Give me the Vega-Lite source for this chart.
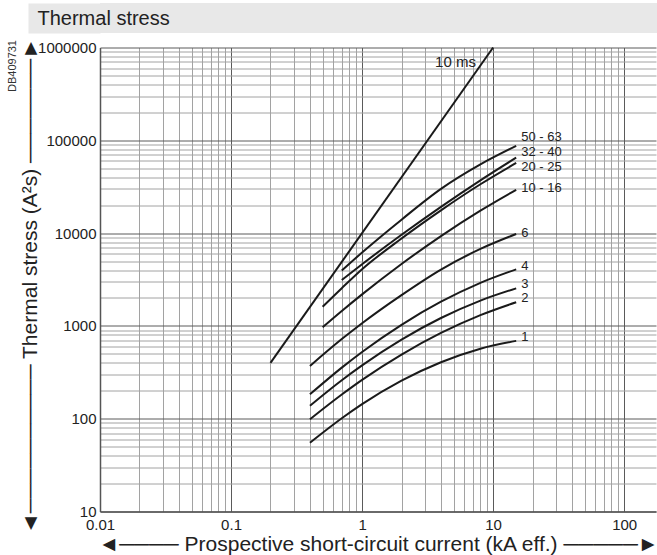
{
  "$schema": "https://vega.github.io/schema/vega-lite/v6.json",
  "padding": {"left": 6, "top": 3, "right": 0, "bottom": 0},
  "spacing": 14.5,
  "bounds": "flush",
  "config": {
    "font": "Liberation Sans",
    "view": {"stroke": null}
  },
  "datasets": {
    "curves": [
      {"s": "10 ms", "x": 0.2, "y": 400}, {"s": "10 ms", "x": 10, "y": 1000000},
      {"s": "50 - 63", "x": 0.7, "y": 3950}, {"s": "50 - 63", "x": 1, "y": 6180}, {"s": "50 - 63", "x": 2, "y": 13960}, {"s": "50 - 63", "x": 4, "y": 29970}, {"s": "50 - 63", "x": 8, "y": 55000}, {"s": "50 - 63", "x": 15, "y": 87000},
      {"s": "32 - 40", "x": 0.7, "y": 3126}, {"s": "32 - 40", "x": 1, "y": 4620}, {"s": "32 - 40", "x": 2, "y": 9590}, {"s": "32 - 40", "x": 4, "y": 19180}, {"s": "32 - 40", "x": 8, "y": 37000}, {"s": "32 - 40", "x": 15, "y": 65000},
      {"s": "20 - 25", "x": 0.5, "y": 1610}, {"s": "20 - 25", "x": 0.7, "y": 2550}, {"s": "20 - 25", "x": 1, "y": 4080}, {"s": "20 - 25", "x": 2, "y": 8750}, {"s": "20 - 25", "x": 4, "y": 17600}, {"s": "20 - 25", "x": 8, "y": 33600}, {"s": "20 - 25", "x": 15, "y": 57000},
      {"s": "10 - 16", "x": 0.5, "y": 966}, {"s": "10 - 16", "x": 0.7, "y": 1446}, {"s": "10 - 16", "x": 1, "y": 2185}, {"s": "10 - 16", "x": 2, "y": 4645}, {"s": "10 - 16", "x": 4, "y": 9290}, {"s": "10 - 16", "x": 8, "y": 17460}, {"s": "10 - 16", "x": 15, "y": 29300},
      {"s": "6", "x": 0.4, "y": 370}, {"s": "6", "x": 0.7, "y": 721}, {"s": "6", "x": 1, "y": 1069}, {"s": "6", "x": 2, "y": 2149}, {"s": "6", "x": 4, "y": 4050}, {"s": "6", "x": 8, "y": 6750}, {"s": "6", "x": 15, "y": 9780},
      {"s": "4", "x": 0.4, "y": 183}, {"s": "4", "x": 0.7, "y": 355}, {"s": "4", "x": 1, "y": 524}, {"s": "4", "x": 2, "y": 1028}, {"s": "4", "x": 4, "y": 1822}, {"s": "4", "x": 8, "y": 2911}, {"s": "4", "x": 15, "y": 4070},
      {"s": "3", "x": 0.4, "y": 138}, {"s": "3", "x": 0.7, "y": 260}, {"s": "3", "x": 1, "y": 376}, {"s": "3", "x": 2, "y": 712}, {"s": "3", "x": 4, "y": 1217}, {"s": "3", "x": 8, "y": 1875}, {"s": "3", "x": 15, "y": 2540},
      {"s": "2", "x": 0.4, "y": 98.5}, {"s": "2", "x": 0.7, "y": 182}, {"s": "2", "x": 1, "y": 262}, {"s": "2", "x": 2, "y": 491}, {"s": "2", "x": 4, "y": 839}, {"s": "2", "x": 8, "y": 1306}, {"s": "2", "x": 15, "y": 1800},
      {"s": "1", "x": 0.4, "y": 55}, {"s": "1", "x": 0.7, "y": 101}, {"s": "1", "x": 1, "y": 143.5}, {"s": "1", "x": 2, "y": 257}, {"s": "1", "x": 4, "y": 406}, {"s": "1", "x": 8, "y": 568}, {"s": "1", "x": 15, "y": 690}
    ],
    "labels": [
      {"label": "50 - 63", "x": 15, "y": 109000},
      {"label": "32 - 40", "x": 15, "y": 74500},
      {"label": "20 - 25", "x": 15, "y": 51000},
      {"label": "10 - 16", "x": 15, "y": 30600},
      {"label": "6", "x": 15, "y": 10100},
      {"label": "4", "x": 15, "y": 4420},
      {"label": "3", "x": 15, "y": 2830},
      {"label": "2", "x": 15, "y": 1984},
      {"label": "1", "x": 15, "y": 754}
    ],
    "mslabel": [
      {"label": "10 ms", "x": 7.4, "y": 698000}
    ],
    "header": [
      {"t": "Thermal stress"}
    ]
  },
  "vconcat": [
    {
      "width": 628,
      "height": 30,
      "view": {"fill": "#e8e8e8", "stroke": null},
      "data": {"name": "header"},
      "mark": {"type": "point", "opacity": 0},
      "encoding": {
        "y": {"field": "t", "type": "nominal",
              "axis": {"title": null, "domain": false, "grid": false,
                       "ticks": true, "tickSize": 72, "tickWidth": 30, "tickColor": "#e8e8e8", "tickCap": "butt",
                       "labelAlign": "left", "labelBaseline": "middle", "labelPadding": -9,
                       "labelFontSize": 20, "labelColor": "#222", "labelLimit": 0}}
      }
    },
    {
      "width": 556,
      "height": 464,
      "title": {"text": "DB409731", "orient": "left", "anchor": "end", "frame": "group", "dx": 7.5, "fontSize": 11, "fontWeight": "normal", "color": "#333", "offset": 2},
      "layer": [
        {
          "data": {"name": "curves"},
          "mark": {"type": "line", "color": "#1a1a1a", "strokeWidth": 2, "interpolate": "monotone"},
          "encoding": {
            "x": {"field": "x", "type": "quantitative",
                  "scale": {"type": "log", "domain": [0.01, 175], "nice": false},
                  "axis": {
                    "values": [0.01,0.02,0.03,0.04,0.05,0.06,0.07,0.08,0.09,0.1,0.2,0.3,0.4,0.5,0.6,0.7,0.8,0.9,1,2,3,4,5,6,7,8,9,10,20,30,40,50,60,70,80,90,100],
                    "grid": true,
                    "gridColor": {"condition": {"test": "abs(log(datum.value)/LN10 - round(log(datum.value)/LN10)) < 0.01", "value": "#5a5a5a"}, "value": "#a2a2a2"},
                    "gridWidth": 1,
                    "ticks": false,
                    "domainColor": "#555555",
                    "domainWidth": 1.5,
                    "labelExpr": "abs(log(datum.value)/LN10 - round(log(datum.value)/LN10)) < 0.01 ? '' + datum.value : ''",
                    "labelFontSize": 15,
                    "labelColor": "#222",
                    "labelPadding": 6,
                    "labelFlush": false,
                    "labelOverlap": false,
                    "title": "◄────  Prospective short-circuit current (kA eff.)  ─────►",
                    "titleFontSize": 21,
                    "titleFontWeight": "normal",
                    "titleColor": "#222",
                    "titlePadding": 1
                  }},
            "y": {"field": "y", "type": "quantitative",
                  "scale": {"type": "log", "domain": [10, 1000000], "nice": false},
                  "axis": {
                    "values": [10,20,30,40,50,60,70,80,90,100,200,300,400,500,600,700,800,900,1000,2000,3000,4000,5000,6000,7000,8000,9000,10000,20000,30000,40000,50000,60000,70000,80000,90000,100000,200000,300000,400000,500000,600000,700000,800000,900000,1000000],
                    "grid": true,
                    "gridColor": {"condition": {"test": "abs(log(datum.value)/LN10 - round(log(datum.value)/LN10)) < 0.01", "value": "#5a5a5a"}, "value": "#a2a2a2"},
                    "gridWidth": 1,
                    "ticks": false,
                    "domainColor": "#555555",
                    "domainWidth": 1.5,
                    "labelExpr": "abs(log(datum.value)/LN10 - round(log(datum.value)/LN10)) < 0.01 ? '' + datum.value : ''",
                    "labelFontSize": 15,
                    "labelColor": "#222",
                    "labelPadding": 4,
                    "labelOverlap": false,
                    "title": "◄──────────  Thermal stress (A²s)  ───────►",
                    "titleFontSize": 21,
                    "titleFontWeight": "normal",
                    "titleColor": "#222",
                    "titlePadding": -3,
                    "titleY": 238
                  }},
            "detail": {"field": "s"}
          }
        },
        {
          "data": {"name": "labels"},
          "mark": {"type": "text", "align": "left", "baseline": "middle", "dx": 5, "fontSize": 13, "color": "#222"},
          "encoding": {
            "x": {"field": "x", "type": "quantitative"},
            "y": {"field": "y", "type": "quantitative"},
            "text": {"field": "label"}
          }
        },
        {
          "data": {"name": "mslabel"},
          "mark": {"type": "text", "align": "right", "baseline": "middle", "fontSize": 15, "color": "#222"},
          "encoding": {
            "x": {"field": "x", "type": "quantitative"},
            "y": {"field": "y", "type": "quantitative"},
            "text": {"field": "label"}
          }
        }
      ]
    }
  ]
}
